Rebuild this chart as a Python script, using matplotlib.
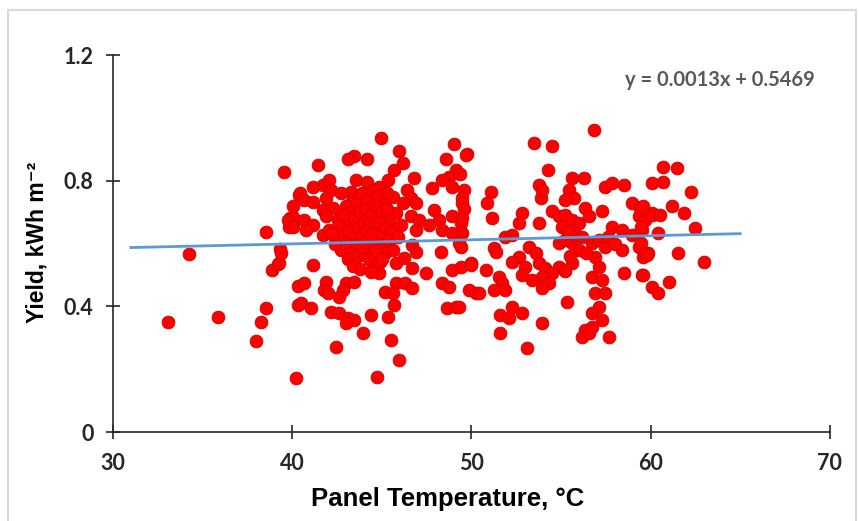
import numpy as np
import matplotlib
matplotlib.use('Agg')
import matplotlib.pyplot as plt
from matplotlib.patches import Rectangle

plt.rcParams['font.family'] = ['Lato', 'DejaVu Sans']

# panel temperature (C) and daily yield (kWh m-2)
temp_left = [39.57, 40.37, 39.9, 40.05, 39.85, 38.55, 34.25, 39.3, 39.2, 38.9,
             40.35, 40.35, 38.55, 33.08, 35.86, 38.24, 37.96, 40.22]
yield_left = [0.827, 0.755, 0.68, 0.685, 0.654, 0.638, 0.566, 0.582, 0.535, 0.516,
              0.466, 0.404, 0.396, 0.349, 0.367, 0.349, 0.29, 0.171]

temp_mid = [44.95, 49.03, 49.77, 45.97, 43.47, 43.09, 44.2, 41.43, 46.16, 45.69,
            48.57, 49.13, 48.75, 42.08, 41.7, 41.15, 42.17, 43.56, 44.2, 45.32,
            44.86, 46.8, 46.43, 46.62, 47.82, 48.38, 48.94, 49.59, 49.49, 40.41,
            40.68, 40.03, 41.15, 41.89, 42.26, 41.7, 43.28, 43.74, 43.28, 39.76,
            40.03, 40.68, 41.15, 40.78, 41.7, 42.08, 42.54, 41.89, 45.6, 46.16,
            45.8, 45.4, 46.9, 46.62, 47.08, 46.9, 47.92, 48.2, 47.64, 48.38,
            48.94, 49.4, 49.49, 48.94, 49.3, 49.4, 48.3, 46.7, 46.9, 47.45,
            46.7, 48.94, 49.4, 49.96, 48.38, 48.75, 49.87, 50.24, 48.66, 49.13,
            41.15, 39.29, 39.4, 40.68, 41.89, 41.8, 41.98, 43.0, 43.47, 42.82,
            42.63, 40.5, 41.06, 42.17, 42.63, 43.1, 43.47, 43.0, 44.4, 45.32,
            45.69, 43.93, 45.5, 42.45, 45.97, 44.76, 45.2, 45.8, 46.3, 46.7,
            45.6, 45.8, 46.25, 44.86, 44.5]
yield_mid = [0.935, 0.917, 0.884, 0.896, 0.879, 0.868, 0.868, 0.85, 0.856, 0.834,
             0.868, 0.834, 0.813, 0.803, 0.787, 0.781, 0.771, 0.803, 0.797, 0.803,
             0.781, 0.808, 0.771, 0.744, 0.776, 0.803, 0.781, 0.771, 0.744, 0.76,
             0.739, 0.718, 0.733, 0.744, 0.712, 0.707, 0.765, 0.749, 0.728, 0.675,
             0.654, 0.675, 0.659, 0.643, 0.627, 0.643, 0.675, 0.686, 0.749, 0.728,
             0.697, 0.675, 0.728, 0.686, 0.675, 0.643, 0.707, 0.675, 0.659, 0.643,
             0.686, 0.665, 0.633, 0.633, 0.601, 0.59, 0.574, 0.596, 0.574, 0.505,
             0.521, 0.516, 0.526, 0.537, 0.474, 0.463, 0.452, 0.442, 0.394, 0.399,
             0.532, 0.537, 0.569, 0.474, 0.479, 0.452, 0.442, 0.474, 0.479, 0.452,
             0.431, 0.41, 0.394, 0.383, 0.378, 0.362, 0.357, 0.346, 0.373, 0.367,
             0.404, 0.314, 0.293, 0.272, 0.229, 0.174, 0.447, 0.474, 0.474, 0.458,
             0.442, 0.537, 0.553, 0.505, 0.526]

# the dense blob around 43-45 C
temp_blob = [42.7, 43.0, 43.3, 43.6, 43.9, 44.2, 44.5, 44.8, 45.1, 45.3,
             42.6, 42.9, 43.2, 43.5, 43.8, 44.1, 44.4, 44.7, 45.0, 45.3,
             42.8, 43.1, 43.4, 43.7, 44.0, 44.3, 44.6, 44.9, 45.2, 45.5,
             42.7, 43.0, 43.3, 43.6, 43.9, 44.2, 44.5, 44.8, 45.1, 45.4,
             43.1, 43.4, 43.7, 44.0, 44.3, 44.6, 44.9, 45.2, 43.8, 44.4,
             44.1, 44.4, 43.9, 44.7, 45.0, 42.4, 42.2, 45.6, 45.9, 46.1]
yield_blob = [0.76, 0.72, 0.70, 0.73, 0.76, 0.74, 0.77, 0.75, 0.73, 0.76,
              0.66, 0.69, 0.66, 0.68, 0.70, 0.71, 0.69, 0.72, 0.70, 0.71,
              0.62, 0.64, 0.62, 0.65, 0.67, 0.66, 0.64, 0.67, 0.65, 0.64,
              0.58, 0.60, 0.57, 0.60, 0.62, 0.61, 0.60, 0.62, 0.60, 0.61,
              0.55, 0.53, 0.56, 0.57, 0.55, 0.56, 0.54, 0.57, 0.52, 0.51,
              0.64, 0.63, 0.59, 0.58, 0.55, 0.60, 0.63, 0.58, 0.62, 0.66]

temp_right = [56.82, 53.48, 54.5, 49.68, 54.3, 53.76, 53.86, 53.95, 51.07, 50.88,
              51.16, 49.35, 49.5, 49.6, 49.45, 55.6, 56.27, 55.43, 55.7, 55.25,
              57.47, 57.84, 58.5, 60.07, 58.96, 59.42, 59.33, 59.7, 60.07, 54.5,
              54.87, 55.25, 55.6, 55.06, 55.98, 56.36, 56.54, 57.28, 52.83, 52.65,
              53.76, 51.9, 52.28, 57.84, 58.4, 58.96, 59.5, 60.44, 54.87, 55.25,
              55.6, 56.73, 57.1, 57.47, 51.26, 51.35, 53.2, 53.58, 52.65, 52.28,
              53.02, 53.76, 54.13, 54.87, 55.62, 54.5, 53.95, 53.39, 52.83, 54.32,
              53.95, 55.25, 49.96, 50.8, 51.54, 51.72, 51.26, 51.9, 50.42, 49.3,
              51.62, 52.28, 52.83, 52.09, 51.62, 53.95, 53.1, 55.34, 56.9, 57.1,
              56.73, 57.28, 56.9, 57.47, 57.1, 56.73, 57.28, 56.73, 56.36, 56.17,
              57.66, 56.54, 58.4, 58.5, 59.33, 59.6, 59.88, 59.5, 60.07, 60.44,
              55.8, 56.2, 55.4, 56.0, 56.4, 55.5, 57.6, 58.0]
yield_right = [0.962, 0.919, 0.909, 0.882, 0.834, 0.787, 0.744, 0.771, 0.765, 0.728,
               0.68, 0.82, 0.73, 0.71, 0.68, 0.808, 0.808, 0.771, 0.744, 0.739,
               0.781, 0.792, 0.787, 0.792, 0.728, 0.712, 0.686, 0.675, 0.697, 0.702,
               0.686, 0.691, 0.675, 0.654, 0.665, 0.712, 0.686, 0.702, 0.697, 0.665,
               0.665, 0.622, 0.627, 0.654, 0.643, 0.627, 0.643, 0.633, 0.601, 0.611,
               0.601, 0.601, 0.611, 0.59, 0.585, 0.574, 0.59, 0.569, 0.558, 0.542,
               0.526, 0.537, 0.521, 0.526, 0.537, 0.505, 0.495, 0.484, 0.5, 0.474,
               0.458, 0.511, 0.532, 0.516, 0.495, 0.474, 0.452, 0.452, 0.442, 0.399,
               0.373, 0.399, 0.378, 0.362, 0.314, 0.346, 0.266, 0.415, 0.558, 0.526,
               0.495, 0.484, 0.442, 0.442, 0.399, 0.378, 0.357, 0.335, 0.325, 0.303,
               0.303, 0.314, 0.58, 0.505, 0.59, 0.558, 0.569, 0.5, 0.463, 0.442,
               0.63, 0.62, 0.64, 0.58, 0.57, 0.56, 0.62, 0.60]

temp_far = [60.72, 61.46, 60.72, 62.26, 59.6, 60.07, 60.53, 61.18, 61.88, 62.48,
            59.45, 59.45, 59.7, 59.8, 61.52, 63.0, 59.6, 61.04]
yield_far = [0.845, 0.84, 0.797, 0.763, 0.718, 0.691, 0.691, 0.718, 0.697, 0.649,
             0.654, 0.601, 0.569, 0.564, 0.571, 0.542, 0.5, 0.479]

# linear trend as printed on the chart
slope = 0.0013
intercept = 0.5469
trend_x = [31, 65]

x = np.concatenate([temp_left, temp_mid, temp_blob, temp_right, temp_far])
y = np.concatenate([yield_left, yield_mid, yield_blob, yield_right, yield_far])

fig = plt.figure(figsize=(8.59, 5.21), dpi=100)
fig.patches.append(Rectangle((0.009, -0.01), 0.988, 0.99, transform=fig.transFigure,
                             fill=False, edgecolor='#d9d9d9', linewidth=1.5))
ax = fig.add_axes([0.1315, 0.1708, 0.8345, 0.7236])

ax.scatter(x, y, s=85, color='#ff0000', edgecolors='#d00000', linewidths=0.6, zorder=2)
tx = np.array(trend_x, dtype=float)
ax.plot(tx, slope * tx + intercept, color='#5b9bd5', linewidth=2, zorder=3)

ax.set_xlim(30, 70)
ax.set_ylim(0, 1.2)
ax.set_xticks([30, 40, 50, 60, 70])
ax.set_yticks([0, 0.4, 0.8, 1.2])
ax.set_yticklabels(['0', '0.4', '0.8', '1.2'])
for side in ['top', 'right']:
    ax.spines[side].set_visible(False)
for side in ['left', 'bottom']:
    ax.spines[side].set_linewidth(1.2)
    ax.spines[side].set_color('#262626')
ax.tick_params(direction='inout', length=10, width=1.2, color='#262626',
               labelsize=15.5)
ax.tick_params(axis='x', pad=10)
ax.tick_params(axis='y', pad=9)
for lbl in ax.get_xticklabels() + ax.get_yticklabels():
    lbl.set_fontweight('bold')
    lbl.set_color('#262626')

fig.text(0.5213, 0.042, 'Panel Temperature, °C', ha='center', va='center',
         fontsize=18.5, fontweight='bold', family=['Liberation Sans', 'DejaVu Sans'])
fig.text(0.043, 0.534, 'Yield, kWh m⁻²', ha='center', va='center', rotation=90,
         fontsize=16.5, fontweight='bold', family=['Liberation Sans', 'DejaVu Sans'])
fig.text(0.7276, 0.846, 'y = 0.0013x + 0.5469', ha='left', va='center',
         fontsize=14.5, fontweight='bold', color='#595959')

fig.savefig('out.png', dpi=100)
